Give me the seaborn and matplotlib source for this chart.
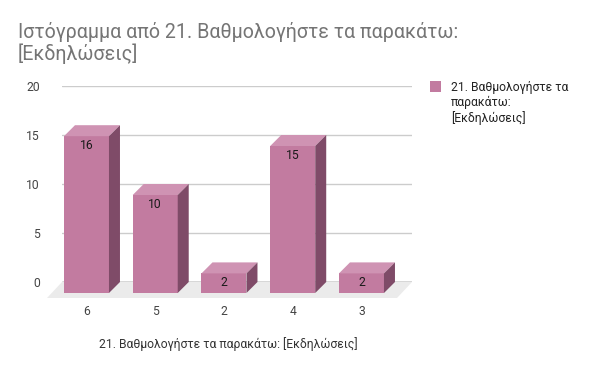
import numpy as np
import pandas as pd
import matplotlib
matplotlib.use("Agg")
import matplotlib.pyplot as plt
from matplotlib.patches import Polygon, Rectangle
import seaborn as sns

categories = ["6", "5", "2", "4", "3"]
counts = [16, 10, 2, 15, 2]
title_text = "Ιστόγραμμα από 21. Βαθμολογήστε τα παρακάτω:\n[Εκδηλώσεις]"
axis_label = "21. Βαθμολογήστε τα παρακάτω: [Εκδηλώσεις]"
legend_label = "21. Βαθμολογήστε τα\nπαρακάτω:\n[Εκδηλώσεις]"
y_ticks = [0, 5, 10, 15, 20]

sns.set_theme(style="white")
plt.rcParams["font.family"] = ["Roboto", "DejaVu Sans"]

FRONT = "#C27BA0"
TOP = "#CF93B3"
SIDE = "#7F4B68"
FLOOR = "#EBEBEB"
FS = 8.7

W, H = 600, 371
fig = plt.figure(figsize=(W / 100, H / 100), dpi=100)
ax_l, ax_r, ax_t, ax_b = 62, 412, 86, 282
ax = fig.add_axes([ax_l / W, (H - ax_b) / H, (ax_r - ax_l) / W, (ax_b - ax_t) / H])

xlim = (-0.516, 4.575)
ylim = (0, 20)
ppx = (ax_r - ax_l) / (xlim[1] - xlim[0])
ppy = (ax_b - ax_t) / (ylim[1] - ylim[0])
dx = 11 / ppx
dy = 11 / ppy
bar_w = 45 / ppx

df = pd.DataFrame({"cat": categories, "n": counts})
sns.barplot(data=df, x="cat", y="n", color=FRONT, saturation=1, width=bar_w,
            ax=ax, zorder=3, linewidth=0)
ax.set_xlim(*xlim)
ax.set_ylim(*ylim)

# floor
fdx, fdy = 15 / ppx, 16 / ppy
floor = Polygon([(xlim[0], 0), (xlim[1], 0), (xlim[1] - fdx, -fdy), (xlim[0] - fdx, -fdy)],
                closed=True, facecolor=FLOOR, edgecolor="none", zorder=1, clip_on=False)
ax.add_patch(floor)

# gridlines
for t in y_ticks:
    ax.axhline(t, color="#333333" if t == 0 else "#CCCCCC", lw=1.0, zorder=1.5 if t == 0 else 0.5)

for p, v in zip(ax.patches[:len(counts)], counts):
    x0 = p.get_x() - dx
    x1 = x0 + p.get_width()
    p.set_x(x0)
    p.set_y(-dy)
    p.set_clip_on(False)
    top = Polygon([(x0, v - dy), (x1, v - dy), (x1 + dx, v), (x0 + dx, v)], closed=True,
                  facecolor=TOP, edgecolor="none", zorder=3, clip_on=False)
    side = Polygon([(x1, v - dy), (x1 + dx, v), (x1 + dx, 0), (x1, -dy)], closed=True,
                   facecolor=SIDE, edgecolor="none", zorder=3, clip_on=False)
    ax.add_patch(top)
    ax.add_patch(side)
    ax.annotate(str(v), ((x0 + x1) / 2, v - dy), xytext=(0, -13 * 0.72), textcoords="offset points",
                ha="center", va="baseline", fontsize=FS, color="#1A1A1A", zorder=5,
                annotation_clip=False)

ax.set_xticks(np.arange(len(categories)) - dx, labels=categories)
ax.set_yticks(y_ticks)
ax.tick_params(axis="x", length=0, pad=16.5, labelsize=FS, colors="#444444")
ax.tick_params(axis="y", length=0, pad=16, labelsize=FS, colors="#444444")
for s in ax.spines.values():
    s.set_visible(False)
ax.set_ylabel("")
ax.set_xlabel(axis_label, fontsize=FS, color="#333333")
ax.xaxis.set_label_coords((228 - ax_l) / (ax_r - ax_l), (ax_b - 337) / (ax_b - ax_t))

fig.text(18 / W, 1 - 22 / H, title_text, ha="left", va="top", fontsize=14.1,
         color="#757575", linespacing=1.1)

fig.patches.append(Rectangle((430 / W, 1 - 92 / H), 11 / W, 11 / H, transform=fig.transFigure,
                             facecolor=FRONT, edgecolor="none"))
fig.text(451 / W, 1 - 80.5 / H, legend_label, ha="left", va="top", fontsize=FS,
         color="#222222", linespacing=1.2)

fig.savefig("out.png", dpi=100, facecolor="white")
